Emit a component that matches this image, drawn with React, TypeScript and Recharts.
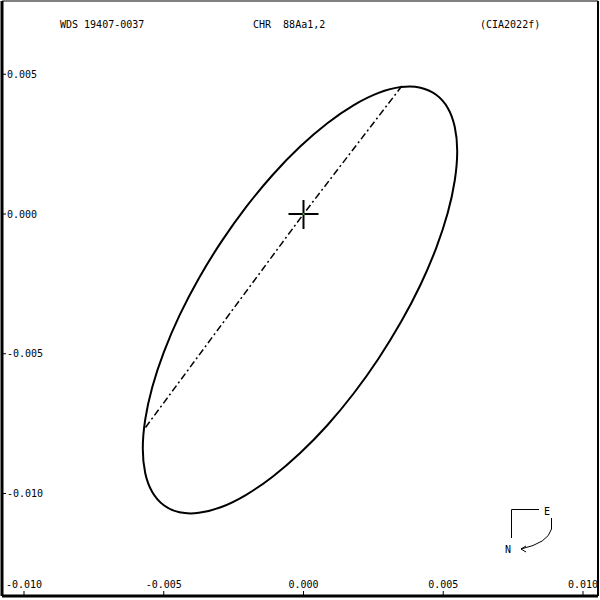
import { ComposedChart, Line, Scatter, XAxis, YAxis, Customized } from "recharts";

// apparent orbit (arcsec)
const orbitX = [
  0.00553, 0.00544, 0.00519, 0.00477, 0.00421, 0.00351, 0.0027, 0.00181, 0.00086,
  -0.00013, -0.00111, -0.00206, -0.00295, -0.00376, -0.00446, -0.00502, -0.00544, -0.00569,
  -0.00578, -0.00569, -0.00544, -0.00502, -0.00446, -0.00376, -0.00295, -0.00206, -0.00111,
  -0.00013, 0.00086, 0.00181, 0.0027, 0.00351, 0.00421, 0.00477, 0.00519, 0.00544,
];
const orbitY = [
  0.00227, 0.00123, 0.00006, -0.00121, -0.00253, -0.00386, -0.00518, -0.00643, -0.00758,
  -0.00859, -0.00943, -0.01008, -0.01052, -0.01073, -0.01071, -0.01046, -0.00998, -0.0093,
  -0.00842, -0.00738, -0.00621, -0.00495, -0.00363, -0.00229, -0.00098, 0.00027, 0.00142,
  0.00243, 0.00328, 0.00393, 0.00437, 0.00458, 0.00456, 0.0043, 0.00383, 0.00314,
];

// line of nodes through the primary
const nodeX = [0.00352, 0, -0.00567];
const nodeY = [0.00458, 0, -0.00766];

const primaryX = [0];
const primaryY = [0];

const xTicks = [-0.01, -0.005, 0, 0.005, 0.01];
const yTicks = [0.005, 0, -0.005, -0.01];

const titleLeft = "WDS 19407-0037";
const titleMid = "CHR  88Aa1,2";
const titleRight = "(CIA2022f)";

const orbit = orbitX.map((x, i) => ({ x, y: orbitY[i] }));
const nodes = nodeX.map((x, i) => ({ x, y: nodeY[i] }));
const primary = primaryX.map((x, i) => ({ x, y: primaryY[i] }));

const X_DOMAIN = [-0.010787, 0.010537];
const Y_DOMAIN = [-0.013667, 0.007621];
const FONT = "DejaVu Sans Mono";
const tickStyle = { fontFamily: FONT, fontSize: 10, fill: "#000" };
const fmt = (v: number) => v.toFixed(3);

const Cross = (props: any) => {
  const { cx, cy } = props;
  return (
    <g>
      <line x1={cx - 15} y1={cy} x2={cx + 15} y2={cy} stroke="#000" strokeWidth={2} />
      <line x1={cx} y1={cy - 14} x2={cx} y2={cy + 15} stroke="#000" strokeWidth={2} />
      <rect x={cx - 1} y={cy - 1} width={2} height={2} fill="#2ca02c" />
    </g>
  );
};

const Annotations = () => (
  <g fontFamily={FONT} fontSize={10} fill="#000">
    <text x={60} y={28}>{titleLeft}</text>
    <text x={253} y={28} style={{ whiteSpace: "pre" }}>{titleMid}</text>
    <text x={480} y={28}>{titleRight}</text>
    {/* orientation marker */}
    <path d="M539 509.5 H511.5 V538" fill="none" stroke="#000" strokeWidth={1} />
    <text x={544} y={515}>E</text>
    <text x={505} y={553}>N</text>
    <path d="M551.5 518 V529 Q548 543 521 549" fill="none" stroke="#000" strokeWidth={1} />
    <path d="M526 546 L521 549 L526 552" fill="none" stroke="#000" strokeWidth={1} />
  </g>
);

export default function App() {
  return (
    <div style={{ position: "absolute", left: 0, top: 0, width: 600, height: 600, background: "#fff" }}>
      <ComposedChart width={600} height={600} margin={{ top: 1, right: 2, bottom: 4, left: 2 }}>
        <XAxis
          dataKey="x"
          type="number"
          domain={X_DOMAIN}
          allowDataOverflow
          ticks={xTicks}
          interval={0}
          tickFormatter={fmt}
          orientation="bottom"
          mirror
          height={1}
          tickSize={5}
          tickMargin={3}
          tick={tickStyle}
          axisLine={{ stroke: "#000", strokeWidth: 3 }}
          tickLine={{ stroke: "#000" }}
        />
        <XAxis
          xAxisId="top"
          dataKey="x"
          type="number"
          domain={X_DOMAIN}
          allowDataOverflow
          ticks={xTicks}
          interval={0}
          orientation="top"
          mirror
          height={1}
          tickSize={5}
          tick={false}
          axisLine={{ stroke: "#000", strokeWidth: 1 }}
          tickLine={{ stroke: "#000" }}
        />
        <YAxis
          type="number"
          domain={Y_DOMAIN}
          allowDataOverflow
          ticks={yTicks}
          interval={0}
          tickFormatter={fmt}
          orientation="left"
          mirror
          width={1}
          tickSize={4}
          tickMargin={1}
          tick={tickStyle}
          axisLine={{ stroke: "#000", strokeWidth: 3 }}
          tickLine={{ stroke: "#000" }}
        />
        <YAxis
          yAxisId="right"
          type="number"
          domain={Y_DOMAIN}
          allowDataOverflow
          ticks={yTicks}
          interval={0}
          orientation="right"
          mirror
          width={1}
          tickSize={5}
          tick={false}
          axisLine={{ stroke: "#000", strokeWidth: 2 }}
          tickLine={{ stroke: "#000" }}
        />
        <Line
          data={nodes}
          dataKey="y"
          type="linear"
          stroke="#000"
          strokeWidth={1.5}
          strokeDasharray="7 3 2 3"
          dot={false}
          activeDot={false}
          isAnimationActive={false}
        />
        <Line
          data={orbit}
          dataKey="y"
          type="basisClosed"
          stroke="#000"
          strokeWidth={2}
          dot={false}
          activeDot={false}
          isAnimationActive={false}
        />
        <Scatter data={primary} dataKey="y" shape={Cross} isAnimationActive={false} />
        <Customized component={Annotations} />
      </ComposedChart>
    </div>
  );
}
